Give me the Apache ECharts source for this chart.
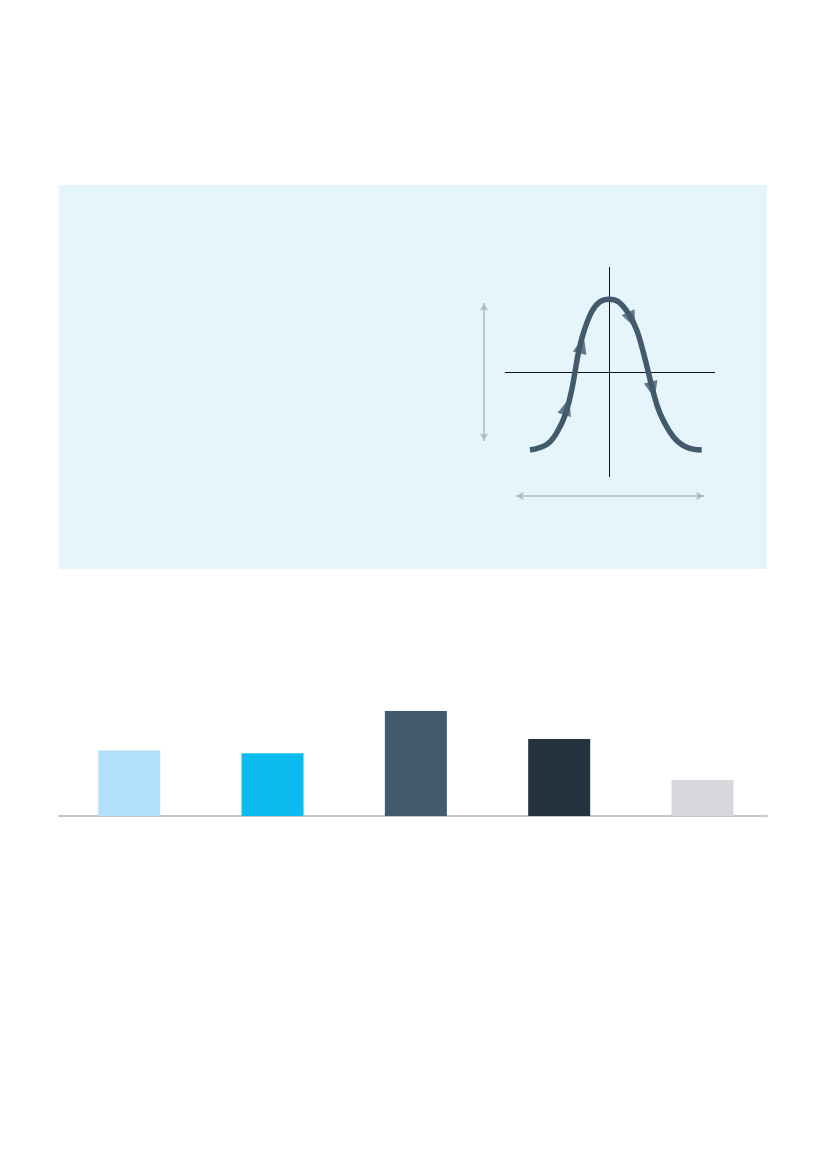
<!DOCTYPE html>
<html>
<head>
<meta charset="utf-8">
<script src="https://cdn.jsdelivr.net/npm/echarts@6/dist/echarts.min.js"></script>
<style>
  html, body { margin: 0; padding: 0; background: #fff; }
  #chart { width: 827px; height: 1169px; }
</style>
</head>
<body>
<div id="chart"></div>
<script>
/* bar chart values */
const barPositions = [0, 1, 2, 3, 4];
const barValues = [65.5, 62.8, 105, 77, 35.9];
const barColors = ["#b3e0f9", "#0bbbef", "#425a6b", "#243240", "#d7d8dd"];

/* bell curve */
const curveX = [-79, -60.7, -49, -42.3, -37.3, -34, -30.7, -25.7, -17.3, -9, 0, 9.3, 19.3, 27.7, 33.7, 39.3, 43.7, 51, 64.3, 77.7, 92.7];
const curveY = [-78, -71.3, -54.7, -38, -18, 0, 18.7, 38.7, 60.3, 70.3, 72.7, 70.3, 58.7, 42, 22, 0, -18, -41.3, -64.7, -75.3, -78];

/* direction arrows on the curve */
const arrowX = [-42.3, -27.3, 22.7, 43.7];
const arrowY = [-34.7, 27, 52, -18];
const arrowRot = [-17, -14, 205, 194];

let chartDom = document.getElementById("chart");
let myChart = echarts.init(chartDom, null, { renderer: "canvas" });

const curveData = curveX.map((x, i) => [x, curveY[i]]);
const arrowData = arrowX.map((x, i) => ({
  value: [x, arrowY[i]],
  symbolRotate: arrowRot[i],
}));

const gray = "#b3b7bf";

let option = {
  backgroundColor: "#ffffff",
  animation: false,
  graphic: [
    {
      type: "rect",
      left: 59,
      top: 185,
      shape: { width: 708, height: 384 },
      style: { fill: "#e6f4fc" },
      z: -10,
    },
  ],
  grid: [
    { left: 459, top: 250, width: 280, height: 270 },
    { left: 59, right: 60, top: 701, bottom: 353 },
  ],
  xAxis: [
    { gridIndex: 0, type: "value", min: -150, max: 130, show: false },
    {
      gridIndex: 1,
      type: "value",
      min: -0.49,
      max: 4.45,
      splitLine: { show: false },
      axisTick: { show: false },
      axisLabel: { show: false },
      axisLine: { show: true, lineStyle: { color: "#aeb2bd", width: 1.5 } },
    },
  ],
  yAxis: [
    { gridIndex: 0, type: "value", min: -148, max: 122, show: false },
    { gridIndex: 1, type: "value", min: 0, max: 115, show: false },
  ],
  series: [
    {
      // diagram axes + gray dimension arrows
      type: "line",
      xAxisIndex: 0,
      yAxisIndex: 0,
      data: [],
      markLine: {
        silent: true,
        animation: false,
        label: { show: false },
        data: [
          [
            { coord: [-104, 0], symbol: "none", lineStyle: { color: "#111", width: 1, type: "solid" } },
            { coord: [106, 0], symbol: "none" },
          ],
          [
            { coord: [0, 105], symbol: "none", lineStyle: { color: "#111", width: 1, type: "solid" } },
            { coord: [0, -105], symbol: "none" },
          ],
          [
            { coord: [-125, 69], symbol: "arrow", symbolSize: [6, 8], lineStyle: { color: gray, width: 1.5, type: "solid" } },
            { coord: [-125, -69], symbol: "arrow", symbolSize: [6, 8] },
          ],
          [
            { coord: [-93, -124], symbol: "arrow", symbolSize: [6, 8], lineStyle: { color: gray, width: 1.5, type: "solid" } },
            { coord: [95, -124], symbol: "arrow", symbolSize: [6, 8] },
          ],
        ],
      },
    },
    {
      type: "line",
      xAxisIndex: 0,
      yAxisIndex: 0,
      data: curveData,
      smooth: 0.4,
      showSymbol: false,
      lineStyle: { color: "#425a6b", width: 5.5, cap: "butt" },
      z: 5,
    },
    {
      type: "scatter",
      xAxisIndex: 0,
      yAxisIndex: 0,
      data: arrowData,
      symbol: "triangle",
      symbolSize: [14, 17],
      itemStyle: { color: "#425a6b" },
      z: 6,
    },
    {
      type: "bar",
      xAxisIndex: 1,
      yAxisIndex: 1,
      barWidth: 62,
      data: barPositions.map((x, i) => ({
        value: [x, barValues[i]],
        itemStyle: { color: barColors[i] },
      })),
    },
  ],
};

option && myChart.setOption(option);
</script>
</body>
</html>
